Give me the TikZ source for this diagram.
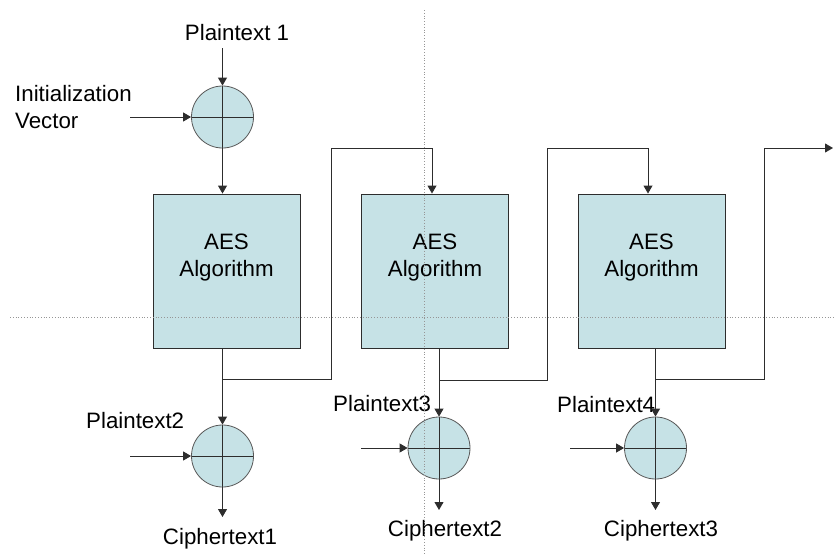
\documentclass[tikz,border=0pt]{standalone}
\usepackage{fontspec}
\setmainfont{Liberation Sans}
\usetikzlibrary{arrows.meta}
\definecolor{aesfill}{RGB}{198,226,230}
\definecolor{wire}{RGB}{45,45,45}
\definecolor{guide}{RGB}{150,150,150}
\begin{document}
\begin{tikzpicture}[x=1pt,y=-1pt,
  font=\fontsize{22.3}{27}\selectfont,
  wire/.style={draw=wire,line width=0.9pt},
  arr/.style={wire,-{Triangle[length=8pt,width=9pt]}},
  xorop/.style={circle,draw=wire!80,fill=aesfill,line width=0.8pt,minimum size=62pt,inner sep=0pt,
    path picture={\draw[wire,line width=0.8pt]
      (path picture bounding box.north) -- (path picture bounding box.south)
      (path picture bounding box.west) -- (path picture bounding box.east);}},
  aesbox/.style={rectangle,draw=wire,fill=aesfill,line width=0.9pt,minimum width=147pt,minimum height=154pt,inner sep=0pt},
  lbl/.style={inner sep=0pt,anchor=base west},
  guideline/.style={draw=guide,dotted,line width=0.8pt}]
\useasboundingbox (0,0) rectangle (835,554);

% AES blocks
\node[aesbox] (b1) at (226.5,271) {};
\node[aesbox] (b2) at (435,271) {};
\node[aesbox] (b3) at (651.5,271) {};
\node[align=center,inner sep=0pt] (t1) at (226.5,258) {AES\\Algorithm};
\node[align=center,inner sep=0pt] (t2) at (435,258) {AES\\Algorithm};
\node[align=center,inner sep=0pt] (t3) at (651.5,258) {AES\\Algorithm};

% XOR operators
\node[xorop] (x1) at (222.5,117) {};
\node[xorop] (x2) at (222.5,456) {};
\node[xorop] (x3) at (439,448) {};
\node[xorop] (x4) at (655.5,448) {};

% labels
\node[inner sep=0pt,anchor=base] (p1) at (237,40) {Plaintext 1};
\node[lbl] (iv1) at (15,101) {Initialization};
\node[lbl] (iv2) at (15,128) {Vector};
\node[lbl] (p2) at (86,428) {Plaintext2};
\node[lbl] (p3) at (333,411) {Plaintext3};
\node[lbl] (p4) at (557,412) {Plaintext4};
\node[inner sep=0pt,anchor=base] (c1) at (220,544) {Ciphertext1};
\node[inner sep=0pt,anchor=base] (c2) at (445,536) {Ciphertext2};
\node[inner sep=0pt,anchor=base] (c3) at (661,536) {Ciphertext3};

% free ends and bends of the chaining lines
\coordinate (in1) at (222.5,48);
\coordinate (ivin) at (130,117);
\coordinate (in2) at (130,456);
\coordinate (in3) at (361,448);
\coordinate (in4) at (570,448);
\coordinate (o2) at (222.5,517);
\coordinate (o3) at (439,510);
\coordinate (o4) at (655.5,510);
\coordinate (j1) at (222.5,379);
\coordinate (j2) at (439,380);
\coordinate (j3) at (655.5,379);
\coordinate (k1) at (331,148);
\coordinate (k2) at (547,148);
\coordinate (k3) at (764,148);
\coordinate (out) at (833,148);

% first stage
\draw[arr] (in1) -- (x1.north);
\draw[arr] (ivin) -- (x1.west);
\draw[arr] (x1.south) -- (b1.north -| x1);

% block outputs into the XORs
\draw[arr] (b1.south -| x2) -- (x2.north);
\draw[arr] (b2.south -| x3) -- (x3.north);
\draw[arr] (b3.south -| x4) -- (x4.north);

% chaining to the next block
\draw[arr] (j1) -| (k1) -| ([xshift=-3pt]b2.north);
\draw[arr] (j2) -| (k2) -| ([xshift=-3.5pt]b3.north);
\draw[arr] (j3) -| (k3) -- (out);

% plaintext inputs and ciphertext outputs
\draw[arr] (in2) -- (x2.west);
\draw[arr] (in3) -- (x3.west);
\draw[arr] (in4) -- (x4.west);
\draw[arr] (x2.south) -- (o2);
\draw[arr] (x3.south) -- (o3);
\draw[arr] (x4.south) -- (o4);

% dotted guides
\draw[guideline] (424,10) -- (424,554);
\draw[guideline] (10,317) -- (835,317);
\end{tikzpicture}
\end{document}
